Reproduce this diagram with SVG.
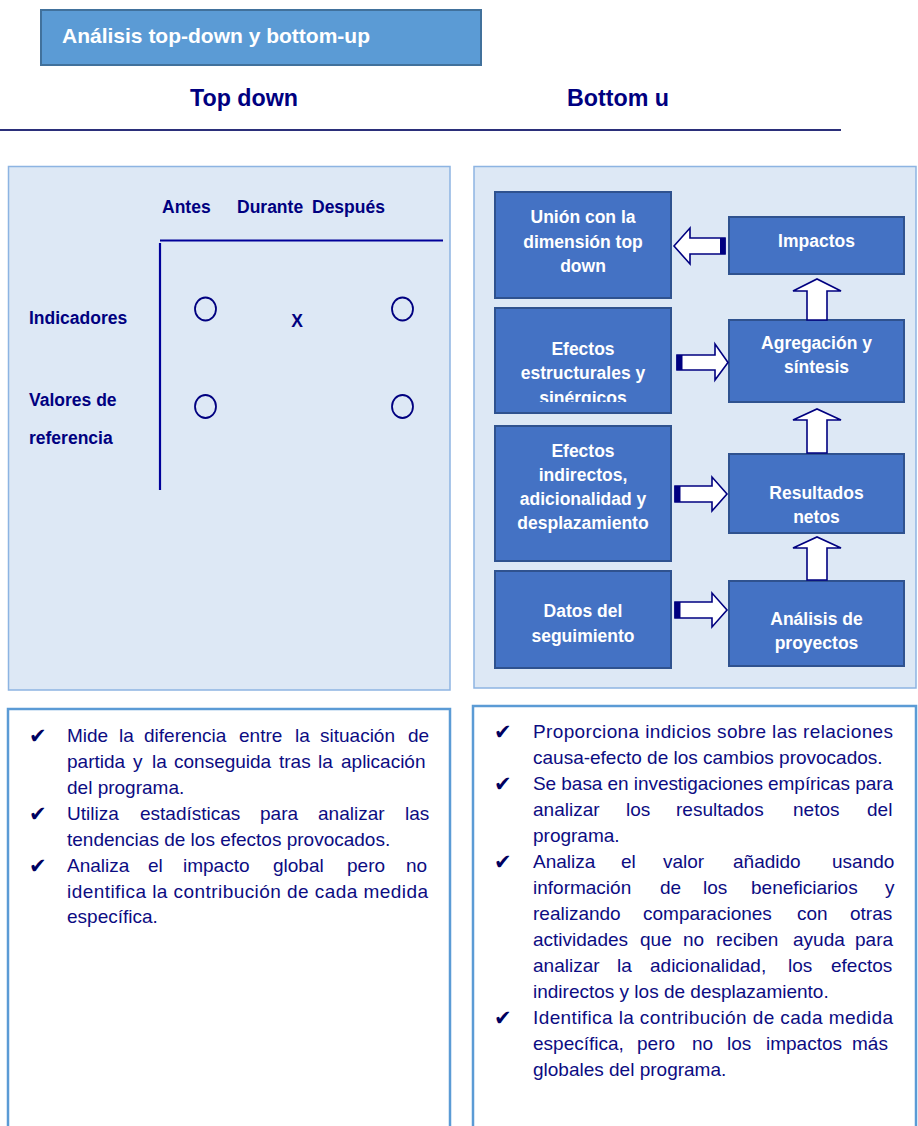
<svg xmlns="http://www.w3.org/2000/svg" width="918" height="1126" viewBox="0 0 918 1126">
<style>
.panel{fill:#dde8f5;stroke:#8db4e2;stroke-width:1.5}
.list{fill:#ffffff;stroke:#5b9bd5;stroke-width:2.5}
.box{fill:#4472c4;stroke:#2f528f;stroke-width:2}
.bt{font-family:"Liberation Sans",Arial,sans-serif;font-weight:bold;font-size:17.5px;fill:#ffffff;text-anchor:middle}
.lbl{font-family:"Liberation Sans",Arial,sans-serif;font-weight:bold;font-size:17.5px;fill:#000080}
.hd{font-family:"Liberation Sans",Arial,sans-serif;font-weight:bold;font-size:23px;fill:#000080}
.body{font-family:"Liberation Sans",Arial,sans-serif;font-size:19px;fill:#0c0c82}
.chk{font-family:"DejaVu Sans",sans-serif;font-size:21px;fill:#000060}
.arr{fill:#ffffff;stroke:#000080;stroke-width:1.6;stroke-linejoin:miter}
.cap{fill:#000080}
.ln{stroke:#000099;stroke-width:2.2;fill:none}
.circ{fill:none;stroke:#000080;stroke-width:1.8}
</style>
<defs>
<clipPath id="clipB2"><rect x="495" y="308" width="176" height="94"/></clipPath>
</defs>

<g id="title">
<rect x="41" y="10" width="440" height="55" fill="#5b9bd5" stroke="#41719c" stroke-width="2"/>
<text x="62" y="43" font-family="'Liberation Sans',Arial,sans-serif" font-weight="bold" font-size="20.5" fill="#ffffff" textLength="308" lengthAdjust="spacingAndGlyphs">Análisis top-down y bottom-up</text>
</g>

<g id="headings">
<text class="hd" x="190" y="106" textLength="108" lengthAdjust="spacingAndGlyphs">Top down</text>
<text class="hd" x="567" y="106" textLength="102" lengthAdjust="spacingAndGlyphs">Bottom u</text>
<line x1="0" y1="130" x2="841" y2="130" stroke="#2b2f7a" stroke-width="2"/>
</g>

<g id="topdown-panel">
<rect class="panel" x="8.5" y="166.5" width="441.5" height="523.5"/>
<text class="lbl" x="162" y="213">Antes</text>
<text class="lbl" x="237" y="213">Durante</text>
<text class="lbl" x="312" y="213">Después</text>
<line class="ln" x1="160" y1="240.5" x2="443" y2="240.5"/>
<line class="ln" x1="160" y1="243" x2="160" y2="490"/>
<text class="lbl" x="29" y="324">Indicadores</text>
<text class="lbl" x="29" y="406">Valores de</text>
<text class="lbl" x="29" y="444">referencia</text>
<ellipse class="circ" cx="205.5" cy="309" rx="10.5" ry="11.5"/>
<ellipse class="circ" cx="402.5" cy="309" rx="10.5" ry="11.5"/>
<ellipse class="circ" cx="205.5" cy="406.5" rx="10.5" ry="11.5"/>
<ellipse class="circ" cx="402.5" cy="406.5" rx="10.5" ry="11.5"/>
<text class="lbl" x="297" y="327" text-anchor="middle">X</text>
</g>

<g id="bottomup-panel">
<rect class="panel" x="474" y="166.5" width="442" height="521.5"/>
</g>

<g id="node-union">
<rect class="box" x="495" y="192" width="176" height="106"/>
<text class="bt" x="583" y="223">Unión con la</text>
<text class="bt" x="583" y="248">dimensión top</text>
<text class="bt" x="583" y="272">down</text>
</g>
<g id="node-estructurales">
<rect class="box" x="495" y="308" width="176" height="105"/>
<g clip-path="url(#clipB2)">
<text class="bt" x="583" y="355">Efectos</text>
<text class="bt" x="583" y="379">estructurales y</text>
<text class="bt" x="583" y="404">sinérgicos</text>
</g>
</g>
<g id="node-indirectos">
<rect class="box" x="495" y="426" width="176" height="135"/>
<text class="bt" x="583" y="457">Efectos</text>
<text class="bt" x="583" y="481">indirectos,</text>
<text class="bt" x="583" y="505">adicionalidad y</text>
<text class="bt" x="583" y="529">desplazamiento</text>
</g>
<g id="node-datos">
<rect class="box" x="495" y="571" width="176" height="97"/>
<text class="bt" x="583" y="617">Datos del</text>
<text class="bt" x="583" y="642">seguimiento</text>
</g>
<g id="node-impactos">
<rect class="box" x="729" y="217" width="175" height="57"/>
<text class="bt" x="816.5" y="247">Impactos</text>
</g>
<g id="node-agregacion">
<rect class="box" x="729" y="320" width="175" height="82"/>
<text class="bt" x="816.5" y="349">Agregación y</text>
<text class="bt" x="816.5" y="373">síntesis</text>
</g>
<g id="node-resultados">
<rect class="box" x="729" y="454" width="175" height="79"/>
<text class="bt" x="816.5" y="499">Resultados</text>
<text class="bt" x="816.5" y="523">netos</text>
</g>
<g id="node-analisis">
<rect class="box" x="729" y="581" width="175" height="85"/>
<text class="bt" x="816.5" y="625">Análisis de</text>
<text class="bt" x="816.5" y="649">proyectos</text>
</g>

<g id="connectors">
<path class="arr" d="M674,246 L690,228 L690,238 L725,238 L725,254 L690,254 L690,264 Z"/>
<rect class="cap" x="720" y="238" width="5.5" height="16"/>
<path class="arr" d="M677,355 L715,355 L715,344 L728,362.5 L715,380 L715,370 L677,370 Z"/>
<rect class="cap" x="676.5" y="355" width="6" height="15"/>
<path class="arr" d="M675,486 L712,486 L712,477 L727,494 L712,511 L712,502 L675,502 Z"/>
<rect class="cap" x="674.5" y="486" width="6" height="16"/>
<path class="arr" d="M675,602 L712,602 L712,593 L727,610 L712,627 L712,618 L675,618 Z"/>
<rect class="cap" x="674.5" y="602" width="6" height="16"/>
<path class="arr" d="M807,320 L807,291 L793,291 L817,279 L841,291 L827,291 L827,320 Z"/>
<path class="arr" d="M807,453 L807,420 L793,420 L817,409 L841,420 L827,420 L827,453 Z"/>
<path class="arr" d="M807,580 L807,548 L793,548 L817,537 L841,548 L827,548 L827,580 Z"/>
</g>

<g id="topdown-list">
<rect class="list" x="8" y="709" width="442" height="440"/>
<text class="chk" x="29" y="743">✔</text>
<text class="chk" x="29" y="821">✔</text>
<text class="chk" x="29" y="873">✔</text>
<text class="body" y="742"><tspan x="67">Mide</tspan><tspan x="119">la</tspan><tspan x="144">diferencia</tspan><tspan x="239">entre</tspan><tspan x="295">la</tspan><tspan x="320">situación</tspan><tspan x="408">de</tspan></text>
<text class="body" y="768"><tspan x="67">partida</tspan><tspan x="133">y</tspan><tspan x="152">la</tspan><tspan x="174">conseguida</tspan><tspan x="279">tras</tspan><tspan x="318">la</tspan><tspan x="341">aplicación</tspan></text>
<text class="body" x="67" y="794">del programa.</text>
<text class="body" y="820"><tspan x="67">Utiliza</tspan><tspan x="140">estadísticas</tspan><tspan x="260">para</tspan><tspan x="318">analizar</tspan><tspan x="405">las</tspan></text>
<text class="body" x="67" y="846">tendencias de los efectos provocados.</text>
<text class="body" y="872"><tspan x="67">Analiza</tspan><tspan x="148">el</tspan><tspan x="183">impacto</tspan><tspan x="273">global</tspan><tspan x="347">pero</tspan><tspan x="406">no</tspan></text>
<text class="body" x="67" y="898" textLength="361">identifica la contribución de cada medida</text>
<text class="body" x="67" y="923">específica.</text>
</g>

<g id="bottomup-list">
<rect class="list" x="473" y="706" width="443" height="440"/>
<text class="chk" x="494" y="739">✔</text>
<text class="chk" x="494" y="791">✔</text>
<text class="chk" x="494" y="869">✔</text>
<text class="chk" x="494" y="1025">✔</text>
<text class="body" x="533" y="738" textLength="360">Proporciona indicios sobre las relaciones</text>
<text class="body" x="533" y="764">causa-efecto de los cambios provocados.</text>
<text class="body" x="533" y="790" textLength="360">Se basa en investigaciones empíricas para</text>
<text class="body" y="816"><tspan x="533">analizar</tspan><tspan x="626">los</tspan><tspan x="676">resultados</tspan><tspan x="793">netos</tspan><tspan x="867">del</tspan></text>
<text class="body" x="533" y="842">programa.</text>
<text class="body" y="868"><tspan x="533">Analiza</tspan><tspan x="621">el</tspan><tspan x="663">valor</tspan><tspan x="733">añadido</tspan><tspan x="832">usando</tspan></text>
<text class="body" y="894"><tspan x="533">información</tspan><tspan x="660">de</tspan><tspan x="703">los</tspan><tspan x="751">beneficiarios</tspan><tspan x="885">y</tspan></text>
<text class="body" y="920"><tspan x="533">realizando</tspan><tspan x="643">comparaciones</tspan><tspan x="797">con</tspan><tspan x="850">otras</tspan></text>
<text class="body" y="946"><tspan x="533">actividades</tspan><tspan x="640">que</tspan><tspan x="683">no</tspan><tspan x="716">reciben</tspan><tspan x="793">ayuda</tspan><tspan x="855">para</tspan></text>
<text class="body" y="972"><tspan x="533">analizar</tspan><tspan x="617">la</tspan><tspan x="650">adicionalidad,</tspan><tspan x="788">los</tspan><tspan x="831">efectos</tspan></text>
<text class="body" x="533" y="998">indirectos y los de desplazamiento.</text>
<text class="body" x="533" y="1024" textLength="360">Identifica la contribución de cada medida</text>
<text class="body" y="1050"><tspan x="533">específica,</tspan><tspan x="637">pero</tspan><tspan x="692">no</tspan><tspan x="727">los</tspan><tspan x="766">impactos</tspan><tspan x="852">más</tspan></text>
<text class="body" x="533" y="1076">globales del programa.</text>
</g>
</svg>
